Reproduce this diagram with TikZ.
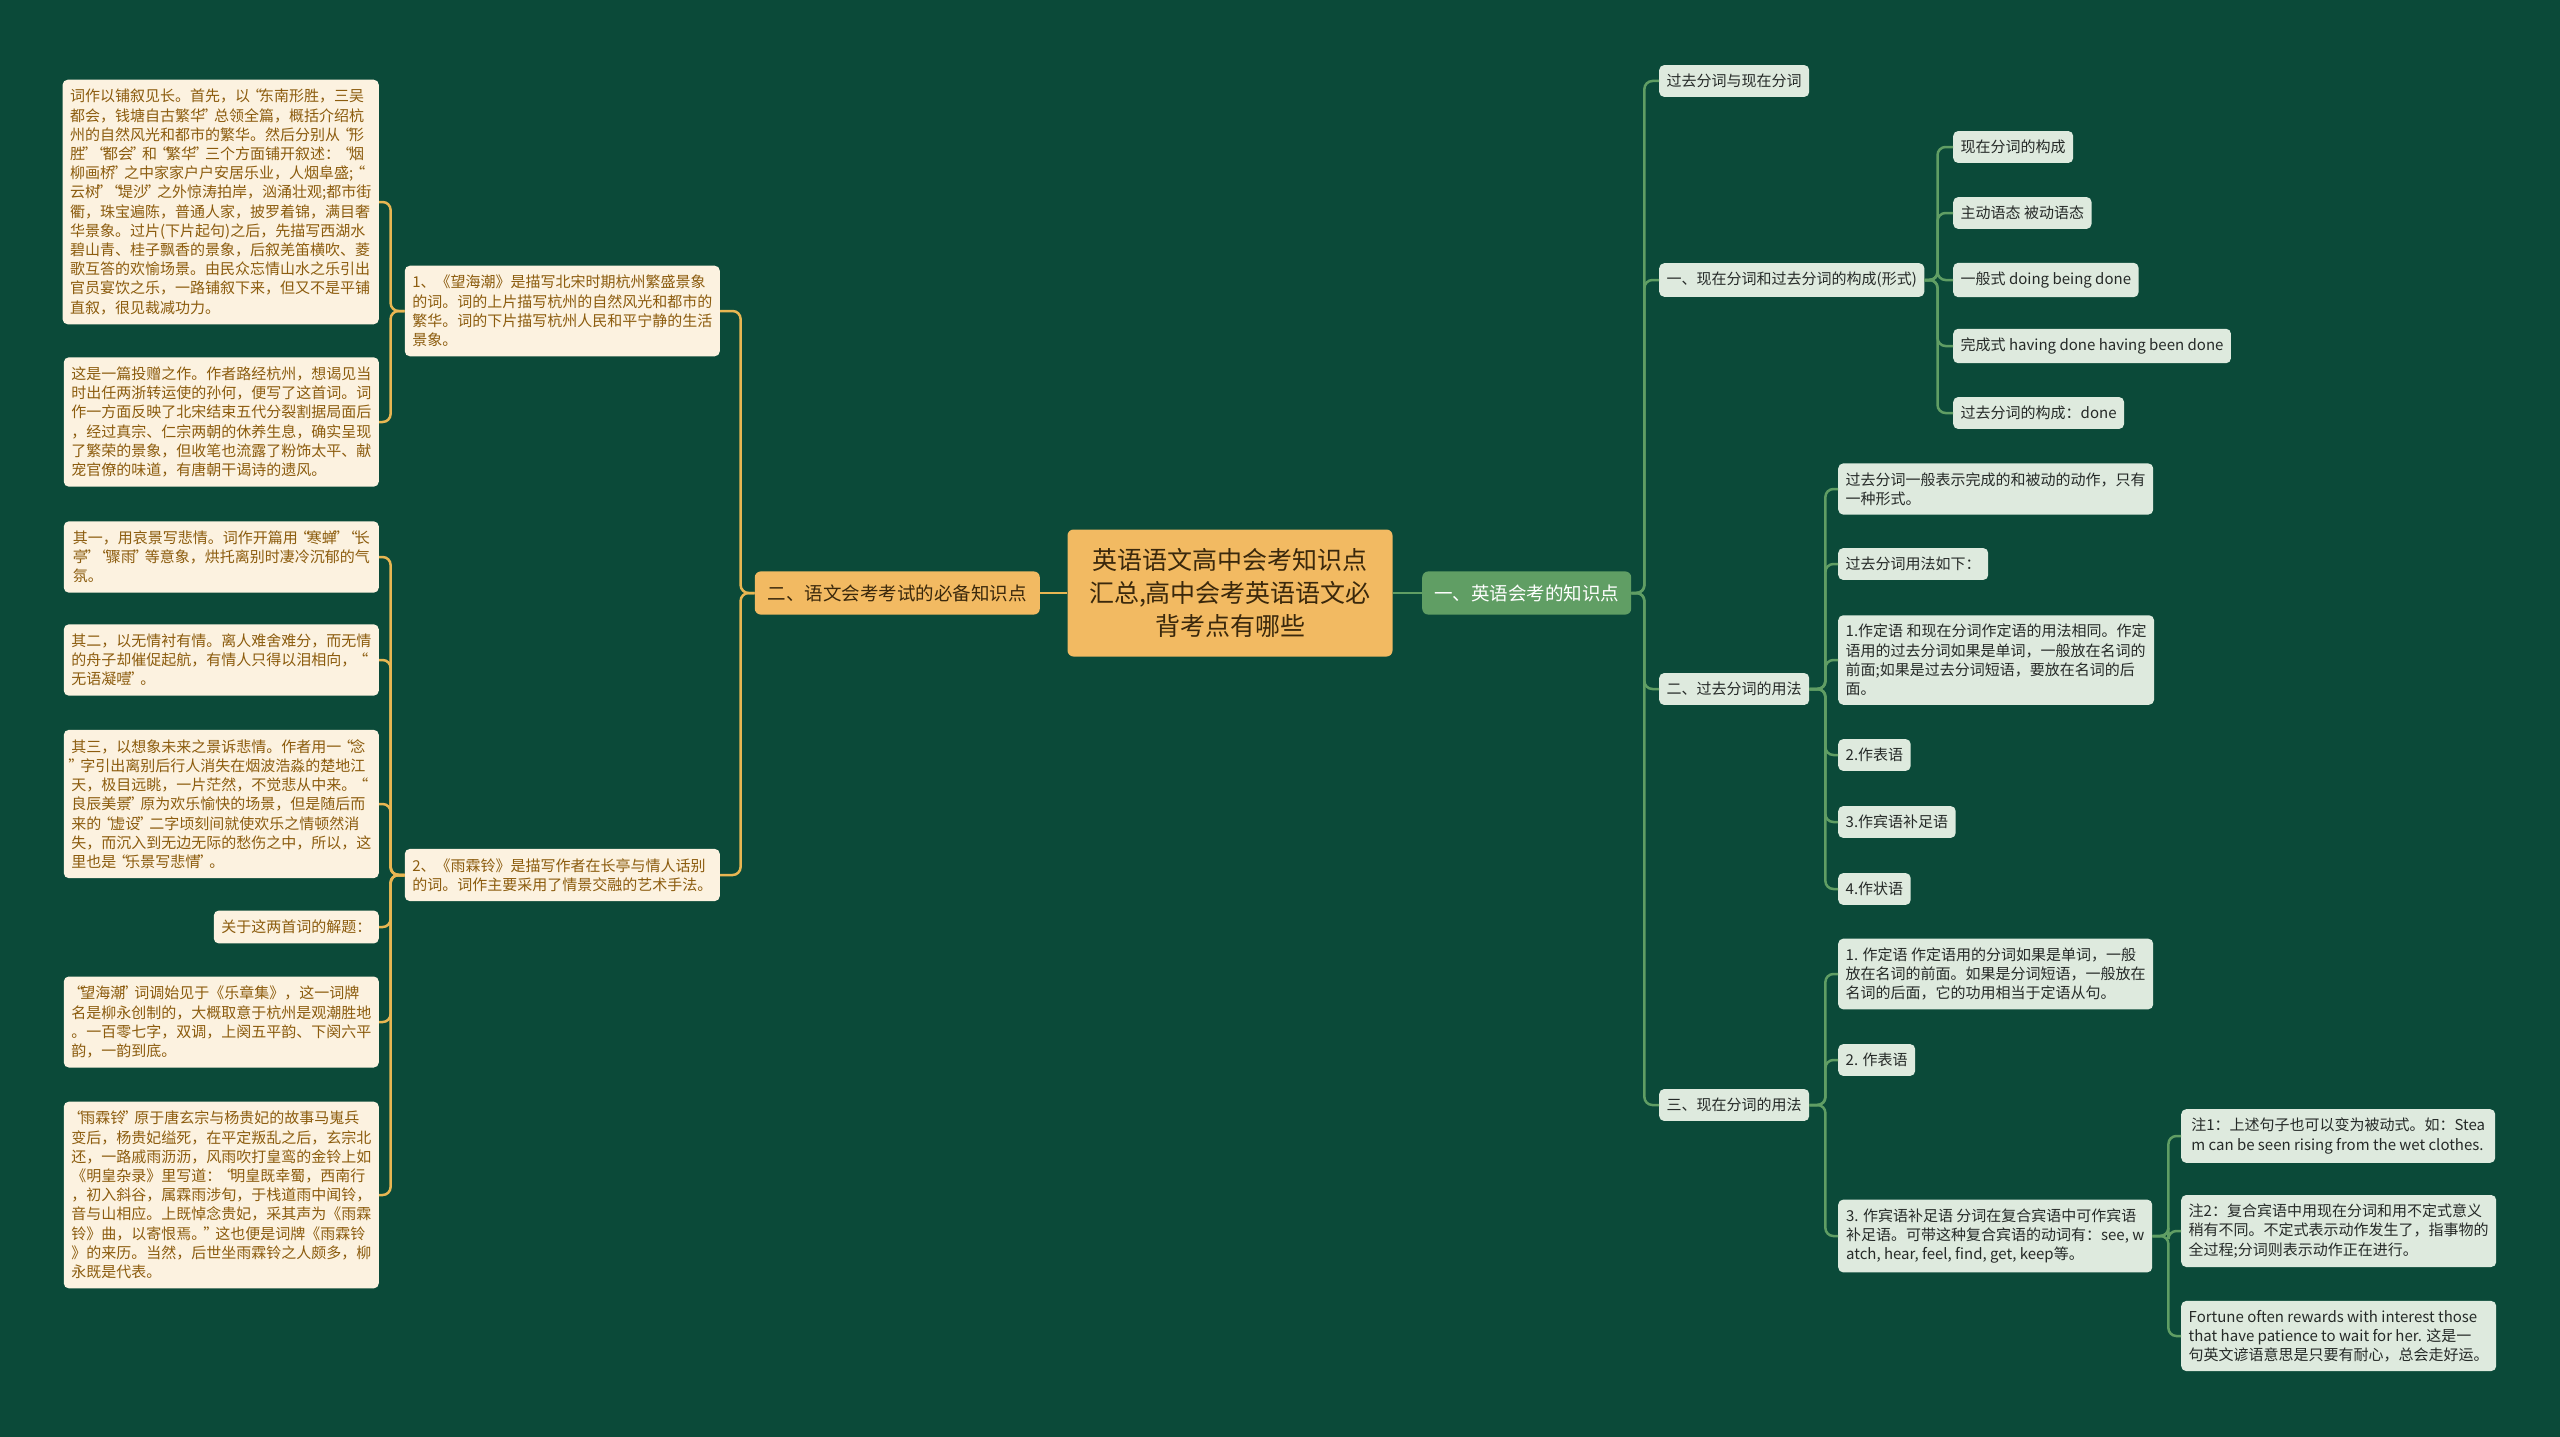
\documentclass[tikz,border=0pt]{standalone}
\usepackage{fontspec}
\setmainfont{Noto Sans CJK SC}
\newfontfamily\quotefont{Noto Sans CJK SC}
\usetikzlibrary{positioning,calc}
\definecolor{BoardGreen}{RGB}{11,74,57}
\definecolor{RootGold}{RGB}{242,186,98}
\definecolor{RootInk}{RGB}{58,40,12}
\definecolor{LeafGreen}{RGB}{96,158,100}
\definecolor{MintFill}{RGB}{222,234,222}
\definecolor{MintInk}{RGB}{38,42,40}
\definecolor{CreamFill}{RGB}{252,242,224}
\definecolor{BrownInk}{RGB}{140,92,14}
\definecolor{GoldLine}{RGB}{232,182,82}
% curly quotes get a fixed, narrower advance
\catcode`“=\active
\def“{\hbox to 9pt{\hss\quotefont\char"201C\relax\hss}}
\catcode`”=\active
\def”{\hbox to 9pt{\hss\quotefont\char"201D\relax\hss}}
\tikzset{
  root/.style={fill=RootGold,text=RootInk,rounded corners=6pt,align=center,
    font=\fontsize{25}{33}\selectfont,minimum width=325pt,minimum height=127pt,inner sep=10pt},
  mainL/.style={fill=RootGold,text=RootInk,rounded corners=6pt,font=\fontsize{18.5}{22}\selectfont,
    inner xsep=13pt,inner ysep=13pt,anchor=east},
  mainR/.style={fill=LeafGreen,text=white,rounded corners=6pt,font=\fontsize{18.5}{22}\selectfont,
    inner xsep=12pt,inner ysep=13pt,anchor=west},
  rbox/.style={fill=MintFill,text=MintInk,rounded corners=5pt,font=\fontsize{15}{19.2}\selectfont,
    align=left,inner xsep=7.5pt,inner ysep=9pt,anchor=west},
  rwide/.style={rbox,minimum width=314pt},
  lbox/.style={fill=CreamFill,text=BrownInk,rounded corners=5pt,font=\fontsize{15}{19.2}\selectfont,
    align=left,inner xsep=7.5pt,inner ysep=9.5pt,anchor=east},
  lwide/.style={lbox,minimum width=315pt},
}
\tikzset{rline/.style={draw=LeafGreen,line width=2.5pt,rounded corners=8pt},
  lline/.style={draw=GoldLine,line width=2.5pt,rounded corners=8pt}}

\begin{document}
\begin{tikzpicture}[x=1pt,y=-1pt]
\fill[BoardGreen] (0,0) rectangle (2560,1437);
\useasboundingbox (0,0) rectangle (2560,1437);
% centre and first level
\node[root](root) at (1230,593){英语语文高中会考知识点\\汇总,高中会考英语语文必\\背考点有哪些};
\node[mainR](r0) at (1422,593){一、英语会考的知识点};
\node[mainL](l0) at (1040,593){二、语文会考考试的必备知识点};
\draw[rline] (root.east)--(r0.west);\draw[lline] (root.west)--(l0.east);
% right side
\node[rbox](r1) at (1659,81){过去分词与现在分词};
\node[rbox](r2) at (1659,280){一、现在分词和过去分词的构成(形式)};
\node[rbox](r3) at (1659,689){二、过去分词的用法};
\node[rbox](r4) at (1659,1105){三、现在分词的用法};
\foreach \c in {r1,r2,r3,r4} \draw[rline] (r0.east) -- ++(13,0) |- (\c.west);
\node[rbox](r2a) at (1953,147){现在分词的构成};
\node[rbox](r2b) at (1953,213){主动语态 被动语态};
\node[rbox](r2c) at (1953,280){一般式 doing being done};
\node[rbox](r2d) at (1953,346){完成式 having done having been done};
\node[rbox](r2e) at (1953,413){过去分词的构成：done};
\foreach \c in {r2a,r2b,r2c,r2d,r2e} \draw[rline] (r2.east) -- ++(13,0) |- (\c.west);
\node[rwide](r3a) at (1838,489){过去分词一般表示完成的和被动的动作，只有\\一种形式。};
\node[rbox](r3b) at (1838,564){过去分词用法如下：};
\node[rwide](r3c) at (1838,660){1.作定语 和现在分词作定语的用法相同。作定\\语用的过去分词如果是单词，一般放在名词的\\前面;如果是过去分词短语，要放在名词的后\\面。};
\node[rbox](r3d) at (1838,755){2.作表语};
\node[rbox](r3e) at (1838,822){3.作宾语补足语};
\node[rbox](r3f) at (1838,889){4.作状语};
\foreach \c in {r3a,r3b,r3c,r3d,r3e,r3f} \draw[rline] (r3.east) -- ++(16,0) |- (\c.west);
\node[rwide](r4a) at (1838,974){1. 作定语 作定语用的分词如果是单词，一般\\放在名词的前面。如果是分词短语，一般放在\\名词的后面，它的功用相当于定语从句。};
\node[rbox](r4b) at (1838,1060){2. 作表语};
\node[rwide](r4c) at (1838,1236){3. 作宾语补足语 分词在复合宾语中可作宾语\\补足语。可带这种复合宾语的动词有：see, w\\atch, hear, feel, find, get, keep等。};
\foreach \c in {r4a,r4b,r4c} \draw[rline] (r4.east) -- ++(16,0) |- (\c.west);
\node[rwide](n1) at (2181,1136){注1：上述句子也可以变为被动式。如：Stea\\m can be seen rising from the wet clothes.};
\node[rwide](n2) at (2181,1231){注2：复合宾语中用现在分词和用不定式意义\\稍有不同。不定式表示动作发生了，指事物的\\全过程;分词则表示动作正在进行。};
\node[rwide](n3) at (2181,1336){Fortune often rewards with interest those\\that have patience to wait for her. 这是一\\句英文谚语意思是只要有耐心，总会走好运。};
\foreach \c in {n1,n2,n3} \draw[rline] (r4c.east) -- ++(16,0) |- (\c.west);
% left side
\node[lwide,minimum width=313pt](la) at (720,311){1、《望海潮》是描写北宋时期杭州繁盛景象\\的词。词的上片描写杭州的自然风光和都市的\\繁华。词的下片描写杭州人民和平宁静的生活\\景象。};
\node[lwide,minimum width=313pt](lb) at (720,875){2、《雨霖铃》是描写作者在长亭与情人话别\\的词。词作主要采用了情景交融的艺术手法。};
\foreach \c in {la,lb} \draw[lline] (l0.west) -- ++(-14,0) |- (\c.east);
\node[lwide](la1) at (379,202){词作以铺叙见长。首先，以“东南形胜，三吴\\都会，钱塘自古繁华”总领全篇，概括介绍杭\\州的自然风光和都市的繁华。然后分别从“形\\胜”“都会”和“繁华”三个方面铺开叙述：“烟\\柳画桥”之中家家户户安居乐业，人烟阜盛;“\\云树”“堤沙”之外惊涛拍岸，汹涌壮观;都市街\\衢，珠宝遍陈，普通人家，披罗着锦，满目奢\\华景象。过片(下片起句)之后，先描写西湖水\\碧山青、桂子飘香的景象，后叙羌笛横吹、菱\\歌互答的欢愉场景。由民众忘情山水之乐引出\\官员宴饮之乐，一路铺叙下来，但又不是平铺\\直叙，很见裁减功力。};
\node[lwide](la2) at (379,422){这是一篇投赠之作。作者路经杭州，想谒见当\\时出任两浙转运使的孙何，便写了这首词。词\\作一方面反映了北宋结束五代分裂割据局面后\\，经过真宗、仁宗两朝的休养生息，确实呈现\\了繁荣的景象，但收笔也流露了粉饰太平、献\\宠官僚的味道，有唐朝干谒诗的遗风。};
\foreach \c in {la1,la2} \draw[lline] (la.west) -- ++(-14,0) |- (\c.east);
\node[lwide](lb1) at (379,557){其一，用哀景写悲情。词作开篇用“寒蝉”“长\\亭”“骤雨”等意象，烘托离别时凄冷沉郁的气\\氛。};
\node[lwide](lb2) at (379,660){其二，以无情衬有情。离人难舍难分，而无情\\的舟子却催促起航，有情人只得以泪相向，“\\无语凝噎”。};
\node[lwide](lb3) at (379,804){其三，以想象未来之景诉悲情。作者用一“念\\”字引出离别后行人消失在烟波浩淼的楚地江\\天，极目远眺，一片茫然，不觉悲从中来。“\\良辰美景”原为欢乐愉快的场景，但是随后而\\来的“虚设”二字顷刻间就使欢乐之情顿然消\\失，而沉入到无边无际的愁伤之中，所以，这\\里也是“乐景写悲情”。};
\node[lbox](lb4) at (379,927){关于这两首词的解题：};
\node[lwide](lb5) at (379,1022){“望海潮”词调始见于《乐章集》，这一词牌\\名是柳永创制的，大概取意于杭州是观潮胜地\\。一百零七字，双调，上阕五平韵、下阕六平\\韵，一韵到底。};
\node[lwide](lb6) at (379,1195){“雨霖铃”原于唐玄宗与杨贵妃的故事马嵬兵\\变后，杨贵妃缢死，在平定叛乱之后，玄宗北\\还，一路戚雨沥沥，风雨吹打皇鸾的金铃上如\\《明皇杂录》里写道：“明皇既幸蜀，西南行\\，初入斜谷，属霖雨涉旬，于栈道雨中闻铃，\\音与山相应。上既悼念贵妃，采其声为《雨霖\\铃》曲，以寄恨焉。”这也便是词牌《雨霖铃\\》的来历。当然，后世坐雨霖铃之人颇多，柳\\永既是代表。};
\foreach \c in {lb1,lb2,lb3,lb4,lb5,lb6} \draw[lline] (lb.west) -- ++(-14,0) |- (\c.east);
\end{tikzpicture}
\end{document}
